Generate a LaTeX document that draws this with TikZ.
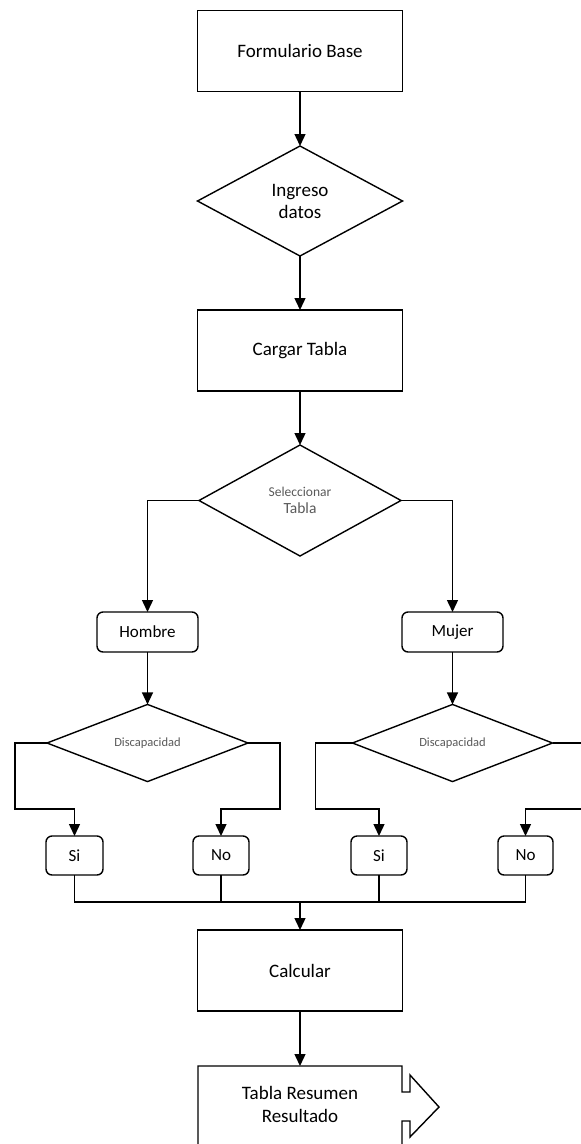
\documentclass[tikz,border=0pt]{standalone}
\usepackage{fontspec}
\setmainfont{Carlito}
\usetikzlibrary{shapes.geometric,arrows.meta,calc}
\begin{document}
\begin{tikzpicture}[x=1pt,y=-1pt,
  lw/.style={line width=1.4pt},
  box/.style={draw, lw, minimum width=205pt, minimum height=81pt, inner sep=0pt, outer sep=0pt, font=\fontsize{19}{22}\selectfont, align=center},
  dec/.style={draw, diamond, lw, inner sep=0pt, outer sep=0pt, align=center},
  rbox/.style={draw, lw, rounded corners=6pt, inner sep=0pt, outer sep=0pt, minimum height=40pt, font=\fontsize{17}{20}\selectfont},
  arr/.style={lw, -{Triangle[length=12pt,width=11pt]}},
  ln/.style={lw},
  gray text/.style={text=black!65}
]
\useasboundingbox (0,0) rectangle (581,1144);
\clip (0,0) rectangle (581,1144);

\node[box] (fb) at (300,51) {Formulario Base};
\node[dec, minimum width=205pt, minimum height=110pt, font=\fontsize{19}{22}\selectfont] (ing) at (300,201) {Ingreso\\datos};
\node[box] (cargar) at (300,350.5) {Cargar Tabla};
\node[dec, minimum width=202pt, minimum height=111pt, gray text] (sel) at (300,500.5)
  {{\fontsize{13.5}{16}\selectfont Seleccionar}\\[5pt]{\fontsize{15.5}{18}\selectfont Tabla}};

\node[rbox, minimum width=101pt] (hombre) at (147.5,632) {Hombre};
\node[rbox, minimum width=101pt] (mujer) at (452.5,632) {Mujer};

\node[dec, minimum width=201pt, minimum height=74pt, gray text, font=\fontsize{12.5}{15}\selectfont] (d1) at (147.5,743) {Discapacidad};
\node[dec, minimum width=200pt, minimum height=74pt, gray text, font=\fontsize{12.5}{15}\selectfont] (d2) at (452.5,743) {Discapacidad};

\node[rbox, minimum width=57pt, minimum height=39pt] (si1) at (74.5,855.5) {Si};
\node[rbox, minimum width=56pt, minimum height=39pt] (no1) at (221,855.5) {No};
\node[rbox, minimum width=56pt, minimum height=39pt] (si2) at (379,855.5) {Si};
\node[rbox, minimum width=55pt, minimum height=39pt] (no2) at (525.5,855.5) {No};

\coordinate (bus) at (300,902);
\node[box] (calc) at (300,970.5) {Calcular};

\coordinate (restop) at (300,1066);
\node[font=\fontsize{19}{23}\selectfont, align=center, inner sep=0pt] (res) at (300,1104.5) {Tabla Resumen\\Resultado};

% final shape outline
\draw[lw, line join=miter] (198,1160) -- (198,1066) -- (402,1066) -- (402,1092) -- (410,1092) -- (410,1075)
  -- (439,1107) -- (410,1137) -- (410,1121) -- (402,1121) -- (402,1160);

% connectors
\draw[arr] (fb.south) -- (ing.north);
\draw[arr] (ing.south) -- (cargar.north);
\draw[arr] (cargar.south) -- (sel.north);
\draw[arr] (sel.west) -| (hombre.north);
\draw[arr] (sel.east) -| (mujer.north);
\draw[arr] (hombre.south) -- (d1.north);
\draw[arr] (mujer.south) -- (d2.north);

\draw[arr] (d1.west) -| ++(-32,66) -| (si1.north);
\draw[arr] (d1.east) -| ++(32,66) -| (no1.north);
\draw[arr] (d2.west) -| ++(-37,66) -| (si2.north);
\draw[arr] (d2.east) -| ++(40,66) -| (no2.north);

\draw[ln] (si1.south) |- (bus);
\draw[ln] (no1.south) |- (bus);
\draw[ln] (si2.south) |- (bus);
\draw[ln] (no2.south) |- (bus);
\draw[arr] (bus) -- (calc.north);
\draw[arr] (calc.south) -- (restop);
\end{tikzpicture}
\end{document}
